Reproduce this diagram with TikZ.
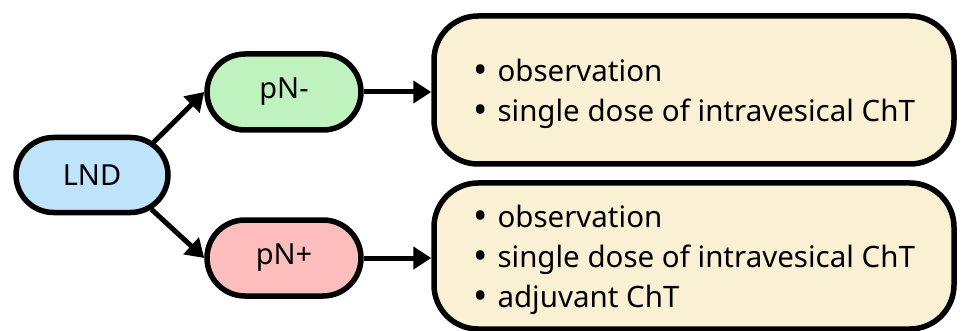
\documentclass[tikz,border=0pt]{standalone}
\usepackage{fontspec}
\setmainfont{Noto Sans}
\usetikzlibrary{shapes.misc,arrows.meta}
\definecolor{lndblue}{HTML}{BEE3FA}
\definecolor{neggreen}{HTML}{C0F2C0}
\definecolor{posred}{HTML}{FCBDBD}
\definecolor{cream}{HTML}{FAF0D4}
\newcommand{\itm}{\raisebox{-2.5pt}{\scalebox{1.3}{\textbullet}}\hspace{10pt}}
\begin{document}
\begin{tikzpicture}[x=1pt, y=-1pt,
  pill/.style={draw, rounded rectangle, line width=5.5pt, minimum width=154pt, minimum height=76pt, inner sep=0pt, font=\fontsize{29}{34}\selectfont},
  plan/.style={draw, rounded corners=44pt, line width=5.5pt, fill=cream, minimum width=520pt, inner sep=0pt, align=left, font=\fontsize{29.5}{40}\selectfont},
  arr/.style={-{Triangle[length=18pt, width=22pt]}, line width=5pt}]
\useasboundingbox (0,0) rectangle (963,331);
% Dissection
\node[pill, fill=lndblue, minimum width=152pt, minimum height=75pt] (lnd) at (92,175) {LND};
% Nodal status
\node[pill, fill=neggreen] (pnneg) at (284,92) {pN-};
\node[pill, fill=posred] (pnpos) at (284,258) {pN+};
% Options
\node[plan, minimum height=148pt] (negbox) at (694,90)
  {\rule{0pt}{30pt}\itm observation\\ \itm single dose of intravesical ChT\hspace{8pt}};
\node[plan, minimum height=146pt] (posbox) at (694,256)
  {\rule{0pt}{30pt}\itm observation\\ \itm single dose of intravesical ChT\hspace{8pt}\\ \itm adjuvant ChT};

% Connections
\draw[arr] (lnd.28) -- (pnneg.west);
\draw[arr] (lnd.-30) -- (pnpos.west);
\draw[arr] (pnneg.east) -- (pnneg.east -| negbox.west);
\draw[arr] (pnpos.east) -- (pnpos.east -| posbox.west);
\end{tikzpicture}
\end{document}
